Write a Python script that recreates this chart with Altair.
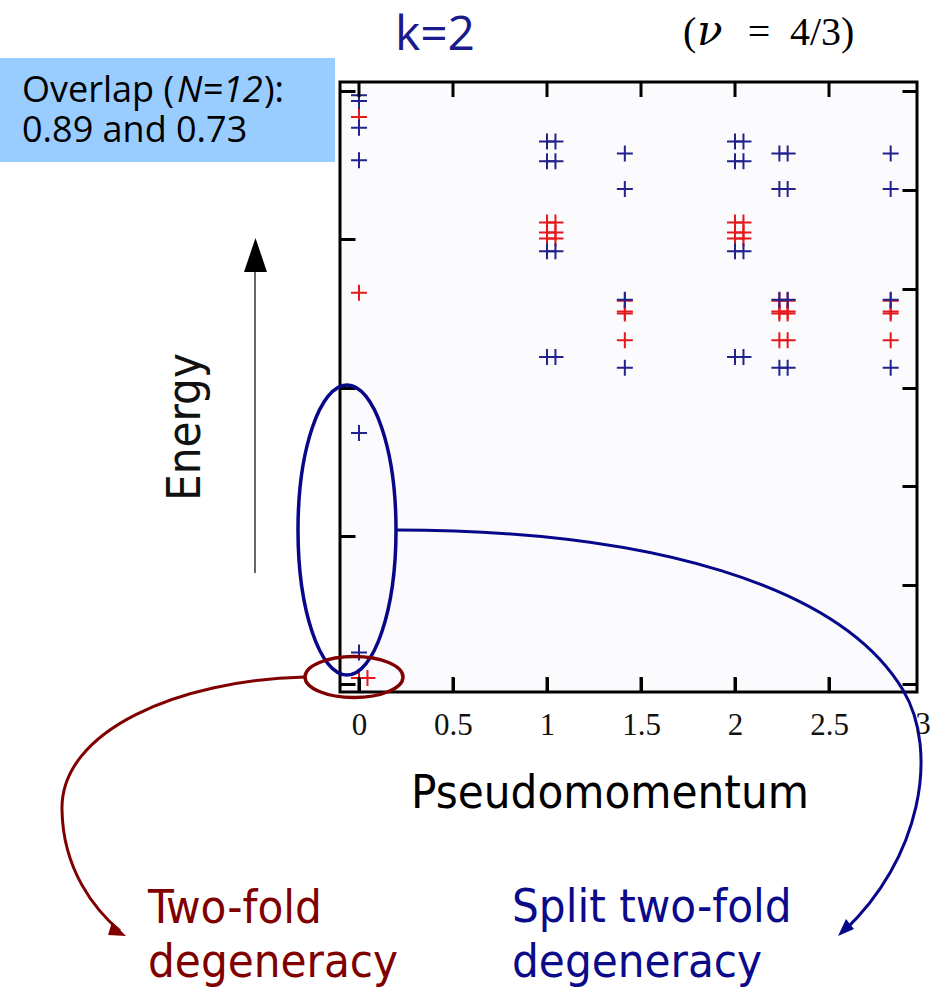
import altair as alt
import pandas as pd

# ---------------- data ----------------
# pseudomomentum positions of the two spectra and their energies
blue_k = [0, 0, 0, 0, 0, 0,
          1, 1.045, 1, 1.045, 1, 1.045, 1, 1.045,
          1.414, 1.414, 1.414, 1.414,
          2, 2.045, 2, 2.045, 2, 2.045, 2, 2.045,
          2.236, 2.28, 2.236, 2.28, 2.236, 2.28, 2.236, 2.28,
          2.828, 2.828, 2.828, 2.828]
blue_E = [5.96, 5.90, 5.63, 5.30, 2.54, 0.32,
          5.49, 5.49, 5.29, 5.29, 4.38, 4.38, 3.31, 3.31,
          5.37, 5.01, 3.89, 3.20,
          5.49, 5.49, 5.29, 5.29, 4.38, 4.38, 3.31, 3.31,
          5.37, 5.37, 5.01, 5.01, 3.89, 3.89, 3.20, 3.20,
          5.37, 5.01, 3.89, 3.20]
red_k = [0, 0, 0, 0.045,
         1, 1.045, 1, 1.045, 1, 1.045,
         1.414, 1.414, 1.414, 1.414,
         2, 2.045, 2, 2.045, 2, 2.045,
         2.236, 2.28, 2.236, 2.28, 2.236, 2.28, 2.236, 2.28,
         2.828, 2.828, 2.828, 2.828]
red_E = [5.74, 3.96, 0.06, 0.06,
         4.67, 4.67, 4.57, 4.57, 4.51, 4.51,
         3.88, 3.77, 3.75, 3.48,
         4.67, 4.67, 4.57, 4.57, 4.51, 4.51,
         3.88, 3.88, 3.77, 3.77, 3.75, 3.75, 3.48, 3.48,
         3.88, 3.77, 3.75, 3.48]

x_tick_values = [0, 0.5, 1, 1.5, 2, 2.5, 3]
x_tick_labels = ["0", "0.5", "1", "1.5", "2", "2.5", "3"]
y_left_ticks = [0, 1.5, 3, 4.5, 6]
y_right_ticks = [0, 1, 2, 3, 4, 5, 6]
x_domain = [-0.101, 2.968]
y_domain = [-0.081, 6.093]

# ---------------- styling ----------------
NAVY = "#22228c"
RED = "#e3191c"
ELL_BLUE = "#07078a"
DARK_RED = "#800000"
SANS = "DejaVu Sans Condensed, DejaVu Sans"
OX, OY = 340, 82          # plot-area origin on the page
W, H = 577, 610
TICK = 15

def px(X):
    return X - OX

def py(Y):
    return Y - OY

df = pd.DataFrame({
    "k": red_k + blue_k,
    "E": red_E + blue_E,
    "series": ["red"] * len(red_k) + ["blue"] * len(blue_k),
})

xscale = alt.Scale(domain=x_domain, nice=False, zero=False)
yscale = alt.Scale(domain=y_domain, nice=False, zero=False)
in_domain = [v for v in x_tick_values if x_domain[0] <= v <= x_domain[1]]

tick_common = dict(domain=False, grid=False, tickSize=TICK, offset=-TICK,
                   tickColor="black", tickWidth=3, title=None)

bottom_axis = alt.Axis(orient="bottom", values=in_domain,
                       labelExpr="datum.value == 0 ? '0' : format(datum.value, '')",
                       labelFont="Liberation Serif", labelFontSize=31,
                       labelColor="#111", labelBaseline="alphabetic",
                       labelPadding=42, **tick_common)
left_axis = alt.Axis(orient="left", values=y_left_ticks, labels=False, **tick_common)
right_axis = alt.Axis(orient="right", values=y_right_ticks, labels=False, **tick_common)

CROSS = "M-1,0L1,0M0,-1L0,1"

points = alt.Chart(df).mark_point(
    shape=CROSS, size=256, filled=False, strokeWidth=2, opacity=1
).encode(
    x=alt.X("k:Q", scale=xscale, axis=bottom_axis),
    y=alt.Y("E:Q", scale=yscale, axis=left_axis),
    color=alt.Color("series:N", scale=alt.Scale(domain=["red", "blue"], range=[RED, NAVY]), legend=None),
)

frame_axes = alt.Chart(df).mark_point(opacity=0).encode(
    x=alt.X("k:Q", scale=xscale, axis=None),
    y=alt.Y("E:Q", scale=yscale, axis=right_axis),
)

# inward ticks along the top and bottom edges, placed by the x and y scales
edge_ticks = pd.DataFrame({
    "k": in_domain * 2,
    "E": [y_domain[1]] * len(in_domain) + [y_domain[0]] * len(in_domain),
    "edge": ["top"] * len(in_domain) + ["bottom"] * len(in_domain),
})
top_ticks = alt.Chart(edge_ticks[edge_ticks.edge == "top"]).mark_point(
    shape="M0,0L0,2", size=TICK * TICK, filled=False, stroke="black",
    strokeWidth=3, opacity=1, strokeOpacity=1
).encode(x=alt.X("k:Q", scale=xscale, axis=None), y=alt.Y("E:Q", scale=yscale, axis=None))
bottom_ticks = alt.Chart(edge_ticks[edge_ticks.edge == "bottom"]).mark_point(
    shape="M0,0L0,-2", size=TICK * TICK, filled=False, stroke="black",
    strokeWidth=3, opacity=1, strokeOpacity=1
).encode(x=alt.X("k:Q", scale=xscale, axis=None), y=alt.Y("E:Q", scale=yscale, axis=None))

outside = pd.DataFrame({"k": [v for v in x_tick_values if v not in in_domain],
                        "label": [l for v, l in zip(x_tick_values, x_tick_labels) if v not in in_domain]})
extra_label = alt.Chart(outside).mark_text(
    font="Liberation Serif", fontSize=31, color="#111", baseline="alphabetic", align="center"
).encode(x=alt.X("k:Q", scale=xscale, axis=None), y=alt.value(H + 42), text="label:N")

one = alt.Data(values=[{"a": 1}])

def text(t, X, Y, size, color="black", font=SANS, align="left", angle=0, style="normal"):
    kw = dict(text=t, font=font, fontSize=size, color=color, align=align,
              baseline="alphabetic", fontStyle=style)
    if angle:
        kw["angle"] = angle
    return alt.Chart(one).mark_text(**kw).encode(x=alt.value(px(X)), y=alt.value(py(Y)))

def shape(path, stroke=None, fill=None, width=3.5):
    kw = dict(shape=path, size=4, opacity=1, strokeWidth=width)
    if fill:
        kw.update(filled=True, fill=fill, fillOpacity=1)
    else:
        kw.update(filled=False)
    if stroke:
        kw.update(stroke=stroke, strokeOpacity=1)
    else:
        kw.update(strokeWidth=0)
    # anchor at page origin so path coordinates are page pixels
    return alt.Chart(one).mark_point(**kw).encode(x=alt.value(-OX), y=alt.value(-OY))

def ellipse(cx, cy, rx, ry):
    k = 0.5523
    return (f"M{cx+rx},{cy} C{cx+rx},{cy+k*ry} {cx+k*rx},{cy+ry} {cx},{cy+ry} "
            f"C{cx-k*rx},{cy+ry} {cx-rx},{cy+k*ry} {cx-rx},{cy} "
            f"C{cx-rx},{cy-k*ry} {cx-k*rx},{cy-ry} {cx},{cy-ry} "
            f"C{cx+k*rx},{cy-ry} {cx+rx},{cy-k*ry} {cx+rx},{cy} Z")

box = alt.Chart(one).mark_rect(color="#99ccff").encode(
    x=alt.value(px(0)), x2=alt.value(px(335)), y=alt.value(py(58)), y2=alt.value(py(162)))

layers = [
    box,
    points,
    frame_axes,
    top_ticks,
    bottom_ticks,
    extra_label,
    # energy arrow
    shape("M255,573 L255,272", stroke="#333333", width=1.5),
    shape("M244,272 L267,272 L255.5,238 Z", fill="black"),
    # ellipses
    shape(ellipse(347, 530, 49, 145), stroke=ELL_BLUE),
    shape(ellipse(354, 677, 49, 20.5), stroke=DARK_RED),
    # connecting curves
    shape("M396,530 C650,530 840,585 903,690 C940,752 920,860 844,931", stroke=ELL_BLUE, width=3),
    shape("M838,936 L854,929 L846,919 Z", fill=ELL_BLUE),
    shape("M305,677 C180,680 60,730 62,810 C63,870 95,910 120,931", stroke=DARK_RED, width=3),
    shape("M126,936 L108,935 L112,922 Z", fill=DARK_RED),
    # texts
    text("k=2", 435, 50, 48, color="#1a1a8c", font="Open Sans", align="center"),
    text("(", 683, 45, 40, font="Liberation Serif"),
    text("ν", 697, 45, 42, font="DejaVu Serif", style="italic"),
    text("=", 759, 45, 40, font="Liberation Serif", align="center"),
    text("4/3)", 790, 45, 40, font="Liberation Serif"),
    text("Overlap (", 22, 102, 36, font="Open Sans"),
    text("N=12", 177, 102, 36, font="Open Sans", style="italic"),
    text("):", 264, 102, 36, font="Open Sans"),
    text("0.89 and 0.73", 22, 142, 36, font="Open Sans"),
    text("Energy", 200, 427, 47, color="#111", align="center", angle=270),
    text("Pseudomomentum", 610, 808, 47, align="center"),
    text("Two-fold", 148, 923, 47, color=DARK_RED),
    text("degeneracy", 148, 977, 47, color=DARK_RED),
    text("Split two-fold", 512, 922, 47, color="#0a0a8a"),
    text("degeneracy", 512, 977, 47, color="#0a0a8a"),
]

chart = alt.layer(*layers).resolve_axis(x="independent", y="independent").properties(
    width=W, height=H,
    padding={"left": OX, "top": OY, "right": 940 - OX - W, "bottom": 988 - OY - H},
    autosize=alt.AutoSizeParams(type="none"),
    background="white",
).configure_view(
    stroke="black", strokeWidth=3, fill="#fbfbfe"
)

chart.save("out.html", embed_options={"renderer": "svg", "actions": False})
